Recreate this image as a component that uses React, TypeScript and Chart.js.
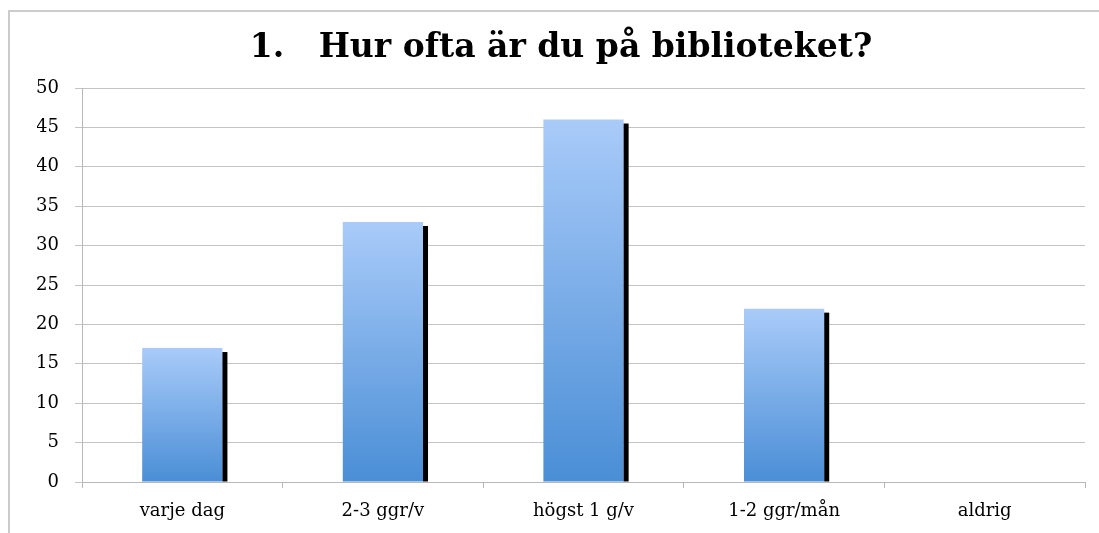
import React, { useEffect, useRef } from "react";
import { Chart, registerables } from "chart.js";

Chart.register(...registerables);

const TITLE = "1.   Hur ofta är du på biblioteket?";
const categories = ["varje dag", "2-3 ggr/v", "högst 1 g/v", "1-2 ggr/mån", "aldrig"];
const values = [17, 33, 46, 22, 0];
const yTicks = [0, 5, 10, 15, 20, 25, 30, 35, 40, 45, 50];

const TOP_COLOR = "#A9CBF9";
const BOTTOM_COLOR = "#4A8ED6";

const shadowPlugin = {
  id: "barShadow",
  afterDatasetsDraw(chart: any) {
    const ctx = chart.ctx;
    const meta = chart.getDatasetMeta(0);
    ctx.save();
    ctx.fillStyle = "#000000";
    meta.data.forEach((bar: any, i: number) => {
      if (!values[i]) return;
      const p = bar.getProps(["x", "y", "base", "width"], true);
      const right = p.x + p.width / 2;
      ctx.fillRect(right, p.y + 4, 5, p.base - p.y - 4);
    });
    ctx.restore();
  },
};

export default function App() {
  const ref = useRef<HTMLCanvasElement | null>(null);
  useEffect(() => {
    if (!ref.current) return;
    const chart = new Chart(ref.current, {
      type: "bar",
      data: {
        labels: categories,
        datasets: [
          {
            data: values,
            backgroundColor: (context: any) => {
              const c = context.chart;
              const y = c.scales?.y;
              if (!y || context.raw === undefined) return BOTTOM_COLOR;
              const top = y.getPixelForValue(context.raw);
              const bottom = y.getPixelForValue(0);
              if (!isFinite(top) || !isFinite(bottom) || top === bottom) return BOTTOM_COLOR;
              const g = c.ctx.createLinearGradient(0, top, 0, bottom);
              g.addColorStop(0, TOP_COLOR);
              g.addColorStop(1, BOTTOM_COLOR);
              return g;
            },
            borderWidth: 0,
            barPercentage: 0.4,
            categoryPercentage: 1,
          },
        ],
      },
      options: {
        responsive: false,
        animation: false,
        layout: { padding: { left: 37, right: 14, top: 0, bottom: 11 } },
        plugins: {
          legend: { display: false },
          tooltip: { enabled: false },
          title: {
            display: true,
            text: TITLE,
            color: "#000000",
            font: { family: "'DejaVu Serif'", size: 33, weight: "bold", lineHeight: 1.2 },
            padding: { top: 29, bottom: 19.4 },
          },
        },
        scales: {
          x: {
            grid: {
              display: true,
              drawOnChartArea: false,
              drawTicks: true,
              tickLength: 6,
              color: "#b8b8b8",
              offset: true,
            },
            border: { display: true, color: "#b8b8b8" },
            ticks: {
              color: "#000000",
              font: { family: "DejaVu Serif", size: 18 },
              padding: 13,
              maxRotation: 0,
            },
            afterFit: (scale: any) => {
              scale.height = 40;
            },
          },
          y: {
            min: 0,
            max: 50,
            afterBuildTicks: (scale: any) => {
              scale.ticks = yTicks.map((v) => ({ value: v }));
            },
            grid: {
              color: "#c4c4c4",
              tickLength: 7,
              drawTicks: true,
            },
            border: { display: true, color: "#b8b8b8" },
            ticks: {
              color: "#000000",
              font: { family: "DejaVu Serif", size: 18 },
              padding: 16,
            },
            afterFit: (scale: any) => {
              scale.width = 45;
            },
          },
        },
      },
      plugins: [shadowPlugin],
    });
    return () => chart.destroy();
  }, []);
  return (
    <div
      style={{
        position: "absolute",
        left: 0,
        top: 0,
        width: 1099,
        height: 533,
        overflow: "hidden",
        background: "#ffffff",
      }}
    >
      <canvas ref={ref} width={1099} height={533} style={{ display: "block" }} />
      <div
        style={{
          position: "absolute",
          left: 8,
          top: 10,
          width: 1200,
          height: 600,
          borderTop: "2px solid #cccccc",
          borderLeft: "2px solid #cccccc",
          pointerEvents: "none",
        }}
      />
    </div>
  );
}
